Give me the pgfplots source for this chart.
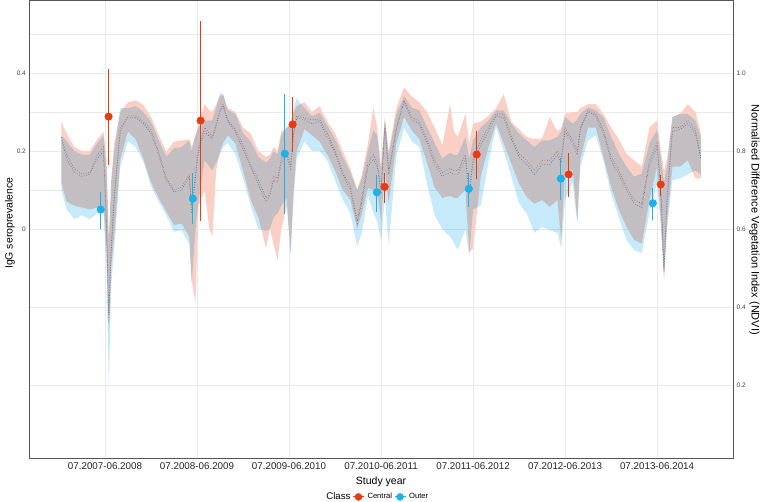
\documentclass[border=0pt]{standalone}
\usepackage{pgfplots}
\pgfplotsset{compat=1.18}
\usepgfplotslibrary{fillbetween}
\usepackage{pgfplotstable}
\usepackage{fontspec}
\setmainfont{Liberation Sans}
\definecolor{cred}{RGB}{233,58,18}
\definecolor{cblue}{RGB}{26,178,232}
\definecolor{bpink}{RGB}{250,208,198}
\definecolor{bblue}{RGB}{198,234,250}
\definecolor{gridc}{RGB}{234,234,234}
\definecolor{framec}{RGB}{85,85,85}
\definecolor{dotred}{RGB}{190,95,90}
\definecolor{dotblue}{RGB}{80,130,165}

% NDVI bands: months since July 2007
\pgfplotstableread{
m chi ohi clo olo cm om
0.3 .875 .840 .720 .700 .835 .830
1.0 .845 .825 .670 .650 .790 .780
2.0 .810 .800 .660 .625 .755 .745
3.0 .800 .790 .655 .635 .740 .735
4.0 .800 .790 .650 .625 .745 .740
5.0 .830 .820 .655 .640 .790 .780
5.8 .850 .840 .660 .640 .810 .800
6.2 .780 .760 .550 .500 .620 .600
6.5 .580 .560 .330 .190 .380 .360
6.8 .720 .720 .500 .450 .550 .540
7.2 .820 .800 .580 .550 .690 .670
8.0 .900 .910 .780 .760 .850 .860
9.0 .925 .910 .850 .825 .890 .885
10.0 .930 .915 .830 .810 .890 .885
11.0 .918 .900 .780 .773 .875 .870
12.0 .888 .875 .720 .710 .854 .845
13.0 .841 .828 .680 .670 .798 .790
14.0 .798 .785 .645 .635 .730 .725
15.0 .824 .807 .610 .593 .700 .695
16.0 .827 .810 .614 .597 .708 .700
17.0 .830 .827 .580 .560 .740 .735
17.3 .810 .800 .470 .460 .660 .640
17.8 .840 .840 .410 .600 .740 .730
18.2 .870 .860 .660 .674 .810 .800
19.0 .920 .878 .700 .776 .860 .850
19.6 .905 .878 .600 .760 .845 .838
20.0 .900 .878 .580 .750 .836 .830
20.5 .920 .910 .750 .770 .870 .865
21.0 .940 .950 .800 .790 .904 .900
21.4 .945 .945 .820 .810 .920 .915
22.0 .910 .905 .840 .820 .880 .875
23.0 .900 .895 .820 .793 .855 .850
24.0 .860 .845 .750 .730 .815 .805
25.0 .845 .825 .675 .660 .765 .760
26.0 .800 .785 .630 .600 .725 .715
27.0 .785 .770 .550 .595 .680 .670
27.5 .790 .780 .600 .600 .690 .685
28.0 .810 .800 .560 .630 .735 .725
28.5 .800 .790 .520 .640 .730 .720
29.0 .850 .840 .600 .660 .780 .770
29.7 .860 .860 .660 .680 .800 .790
30.2 .870 .870 .540 .530 .760 .750
30.6 .900 .910 .700 .680 .850 .845
31.0 .915 .935 .800 .780 .890 .885
32.0 .925 .910 .856 .825 .885 .880
33.0 .900 .889 .840 .800 .880 .870
34.0 .915 .898 .824 .800 .880 .875
35.0 .875 .865 .790 .775 .845 .835
36.0 .845 .830 .750 .725 .800 .795
37.0 .800 .785 .700 .675 .745 .740
38.0 .755 .745 .675 .640 .710 .700
38.9 .700 .700 .600 .555 .620 .615
39.5 .740 .730 .640 .590 .680 .670
40.3 .820 .800 .705 .685 .770 .760
41.0 .910 .853 .700 .640 .790 .780
41.5 .860 .840 .700 .620 .770 .760
42.0 .760 .750 .620 .570 .700 .690
42.5 .890 .880 .750 .680 .870 .860
43.0 .800 .790 .665 .560 .750 .740
44.0 .910 .895 .820 .785 .860 .855
45.0 .963 .940 .887 .860 .930 .925
46.0 .940 .912 .853 .825 .887 .880
47.0 .925 .904 .830 .810 .875 .870
48.0 .900 .862 .770 .715 .830 .820
49.0 .860 .820 .706 .635 .776 .765
50.0 .815 .780 .680 .600 .745 .735
51.0 .920 .795 .685 .580 .755 .745
51.5 .850 .790 .680 .565 .750 .740
52.0 .836 .790 .680 .546 .750 .740
53.0 .895 .836 .700 .600 .790 .780
53.5 .820 .780 .540 .530 .700 .690
54.0 .870 .827 .550 .650 .780 .770
55.0 .875 .860 .734 .660 .827 .815
56.0 .890 .878 .810 .770 .860 .850
57.0 .910 .904 .870 .860 .895 .890
58.0 .946 .904 .820 .800 .895 .885
59.0 .875 .870 .767 .734 .836 .830
60.0 .855 .844 .716 .665 .793 .785
61.0 .836 .827 .682 .640 .776 .765
62.0 .830 .810 .665 .590 .750 .740
63.0 .832 .827 .674 .606 .776 .765
64.0 .887 .827 .657 .597 .776 .765
65.0 .850 .836 .674 .590 .800 .790
65.5 .860 .850 .570 .550 .780 .770
66.0 .895 .887 .750 .674 .860 .850
67.0 .900 .870 .750 .720 .827 .820
67.6 .900 .880 .620 .610 .800 .790
68.0 .910 .895 .780 .760 .860 .855
69.0 .920 .912 .860 .827 .904 .900
70.0 .920 .904 .860 .840 .895 .890
71.0 .895 .887 .785 .775 .853 .845
72.0 .860 .836 .708 .690 .785 .775
73.0 .830 .793 .650 .630 .750 .740
74.0 .793 .760 .606 .572 .708 .700
75.0 .776 .734 .572 .546 .674 .665
76.0 .760 .742 .563 .538 .665 .655
77.0 .860 .820 .674 .640 .776 .765
78.0 .878 .853 .760 .720 .820 .810
78.5 .800 .780 .620 .600 .700 .690
78.9 .750 .720 .470 .470 .490 .500
79.3 .780 .760 .620 .600 .680 .670
80.0 .887 .887 .760 .725 .860 .850
81.0 .895 .895 .760 .730 .860 .855
82.0 .920 .895 .776 .740 .878 .870
83.0 .900 .878 .730 .750 .853 .845
83.7 .846 .836 .730 .740 .785 .780
}\ndvi

% IgG seroprevalence, Outer
\pgfplotstableread{
m y lo hi
5.45 0.050 0.000 0.095
17.45 0.078 0.013 0.143
29.45 0.193 0.038 0.346
41.45 0.094 0.044 0.138
53.45 0.103 0.057 0.143
65.45 0.129 0.074 0.181
77.45 0.066 0.023 0.106
}\outerdata

% IgG seroprevalence, Central
\pgfplotstableread{
m y lo hi
6.47 0.288 0.163 0.410
18.47 0.278 0.021 0.533
30.47 0.268 0.197 0.338
42.47 0.108 0.067 0.144
54.47 0.191 0.127 0.251
66.47 0.140 0.081 0.196
78.47 0.114 0.085 0.138
}\centraldata

\begin{document}
\begin{tikzpicture}
\begin{axis}[
  scale only axis, width=704pt, height=458pt,
  xmin=-3.91, xmax=87.9, ymin=0.013, ymax=1.187,
  axis line style={draw=framec, line width=0.9pt},
  xtick={6,18,30,42,54,66,78},
  xticklabels={07.2007-06.2008,07.2008-06.2009,07.2009-06.2010,07.2010-06.2011,07.2011-06.2012,07.2012-06.2013,07.2013-06.2014},
  xticklabel style={font=\fontsize{9.8}{10}\selectfont, text=black!85, inner sep=0pt, yshift=-4pt},
  ytick={0.2,0.4,0.6,0.8,1.0},
  yticklabels={0.2,0.4,0.6,0.8,1.0},
  minor ytick={0.7,0.9,1.1},
  yticklabel pos=right,
  yticklabel style={font=\fontsize{6.5}{7}\selectfont, text=black!75, inner sep=0pt, xshift=3.5pt},
  major tick length=0pt, minor tick length=0pt,
  xmajorgrids, ymajorgrids, yminorgrids,
  major grid style={draw=gridc, line width=0.8pt},
  minor grid style={draw=gridc, line width=0.8pt},
  xlabel={Study year},
  every axis x label/.style={at={(axis description cs:0.5,-0.0524)}, anchor=center, font=\fontsize{10.5}{11}\selectfont},
  ylabel={Normalised Difference Vegetation Index (NDVI)},
  every axis y label/.style={at={(axis description cs:1.0305,0.52)}, anchor=center, rotate=-90, font=\fontsize{11}{12}\selectfont},
]
\addplot[name path=ch, draw=none] table[x=m,y=chi]{\ndvi};
\addplot[name path=cl, draw=none] table[x=m,y=clo]{\ndvi};
\addplot[name path=oh, draw=none] table[x=m,y=ohi]{\ndvi};
\addplot[name path=ol, draw=none] table[x=m,y=olo]{\ndvi};
\addplot[fill=bpink, draw=none] fill between[of=ch and cl];
\addplot[fill=bblue, draw=none, blend mode=multiply] fill between[of=oh and ol];
\addplot[dotred, line width=0.7pt, dash pattern=on 0.7pt off 1.8pt] table[x=m,y=cm]{\ndvi};
\addplot[dotblue, line width=0.7pt, dash pattern=on 0.7pt off 1.8pt, dash phase=1.2pt] table[x=m,y=om]{\ndvi};
\end{axis}

\begin{axis}[
  scale only axis, width=704pt, height=458pt,
  xmin=-3.91, xmax=87.9, ymin=-0.587, ymax=0.587,
  axis x line=none, axis y line*=left,
  y axis line style={draw=none},
  ytick={0,0.2,0.4}, yticklabels={0,0.2,0.4},
  yticklabel style={font=\fontsize{6.5}{7}\selectfont, text=black!75, inner sep=0pt, xshift=-3pt},
  major tick length=0pt,
  ylabel={IgG seroprevalence},
  every axis y label/.style={at={(axis description cs:-0.027,0.513)}, anchor=center, rotate=90, font=\fontsize{10.5}{11}\selectfont},
  legend style={at={(axis description cs:0.494,-0.085)}, anchor=center, legend columns=-1, draw=none, fill=none, font=\fontsize{7.6}{8}\selectfont, inner sep=0pt,
    /tikz/every odd column/.append style={column sep=1pt}},
]
\addlegendimage{empty legend}
\addlegendentry{\fontsize{9.6}{10}\selectfont Class\hspace{3pt}}
\addplot[only marks, mark=*, mark size=3.8pt, color=cred, mark options={draw=none, fill=cred},
  legend image code/.code={\draw[line width=1.1pt, cred] (0pt,0pt) -- (11pt,0pt); \fill[cred] (5.5pt,0pt) circle (3.5pt);},
  error bars/.cd, y dir=both, y explicit, error mark=none, error bar style={line width=1.1pt, cred}]
  table[x=m, y=y, y error plus expr=\thisrow{hi}-\thisrow{y}, y error minus expr=\thisrow{y}-\thisrow{lo}]{\centraldata};
\addlegendentry{Central}
\addplot[only marks, mark=*, mark size=3.8pt, color=cblue, mark options={draw=none, fill=cblue},
  legend image code/.code={\draw[line width=1.1pt, cblue] (0pt,0pt) -- (11pt,0pt); \fill[cblue] (5.5pt,0pt) circle (3.5pt);},
  error bars/.cd, y dir=both, y explicit, error mark=none, error bar style={line width=1.1pt, cblue}]
  table[x=m, y=y, y error plus expr=\thisrow{hi}-\thisrow{y}, y error minus expr=\thisrow{y}-\thisrow{lo}]{\outerdata};
\addlegendentry{Outer}
\end{axis}
\pgfresetboundingbox
\useasboundingbox (-29pt,-44pt) rectangle (731pt,458pt);
\end{tikzpicture}
\end{document}
